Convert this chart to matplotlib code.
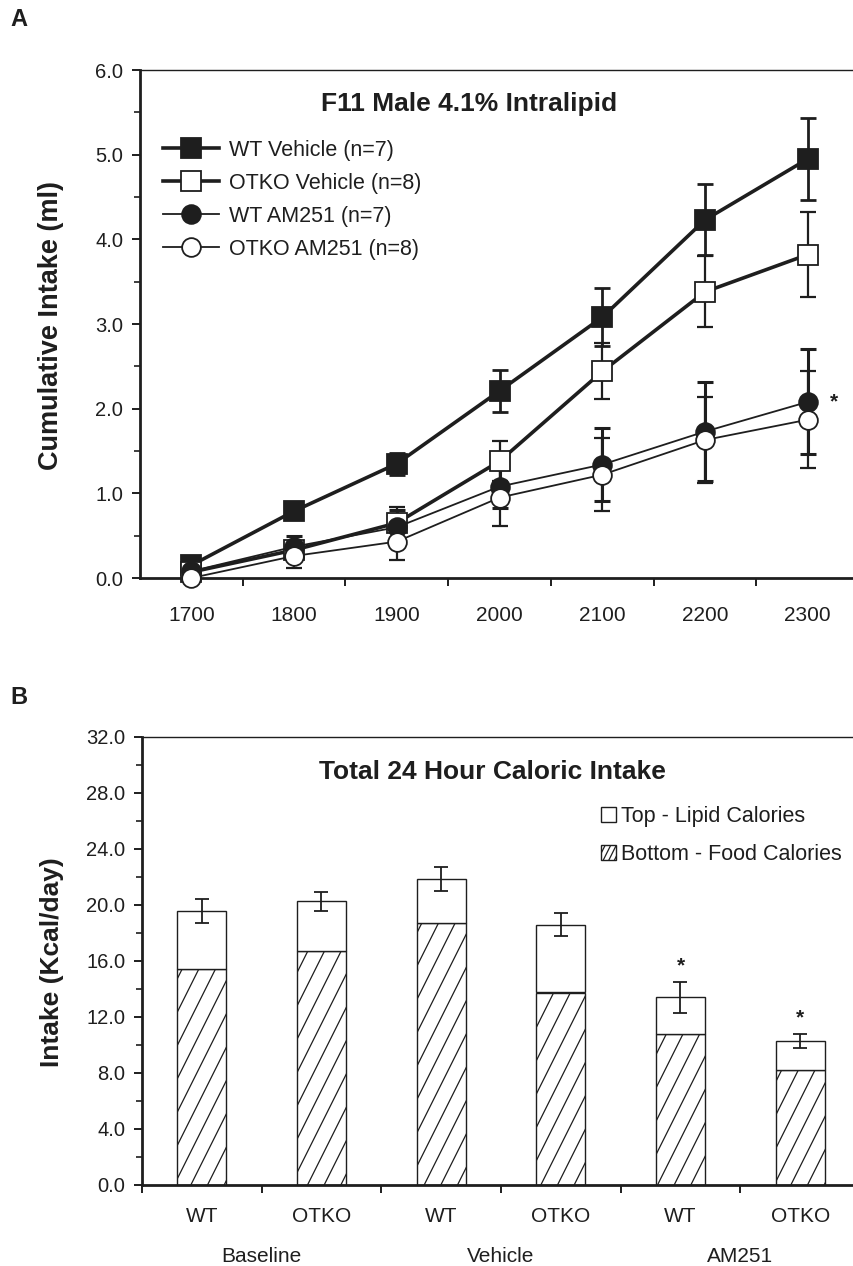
import numpy as np
import matplotlib.pyplot as plt
import matplotlib.hatch as mhatch
from matplotlib.patches import Patch

plt.rcParams['font.family'] = ['Liberation Sans', 'DejaVu Sans']
plt.rcParams['hatch.linewidth'] = 0.9
INK = '#1e1e1e'


class SteepHatch(mhatch.HatchPatternBase):
    """'/' hatch drawn at a 2:1 slope instead of 45 degrees."""

    def __init__(self, hatch, density):
        self.num_lines = int(hatch.count('/') * density)
        # even line count keeps the tile seamless with a half-cell shift
        if self.num_lines % 2:
            self.num_lines += 1
        self.n_seg = (self.num_lines * 3) // 2 + 1 if self.num_lines else 0
        self.num_vertices = self.n_seg * 2

    def set_vertices_and_codes(self, vertices, codes):
        starts = np.arange(self.n_seg) / self.num_lines - 0.5
        vertices[0::2, 0] = starts
        vertices[0::2, 1] = 0.0
        vertices[1::2, 0] = starts + 0.5
        vertices[1::2, 1] = 1.0
        codes[0::2] = mhatch.Path.MOVETO
        codes[1::2] = mhatch.Path.LINETO


mhatch._hatch_types[mhatch._hatch_types.index(mhatch.NorthEastHatch)] = SteepHatch

# Panel A: cumulative intralipid intake (ml), mean +/- SEM
hours = [1700, 1800, 1900, 2000, 2100, 2200, 2300]
wt_vehicle = [0.15, 0.79, 1.35, 2.21, 3.08, 4.23, 4.95]
wt_vehicle_sem = [0.03, 0.05, 0.13, 0.25, 0.34, 0.42, 0.48]
otko_vehicle = [0.07, 0.33, 0.65, 1.38, 2.44, 3.38, 3.82]
otko_vehicle_sem = [0.02, 0.10, 0.19, 0.24, 0.33, 0.42, 0.50]
wt_am251 = [0.08, 0.37, 0.60, 1.08, 1.34, 1.73, 2.08]
wt_am251_sem = [0.03, 0.13, 0.20, 0.25, 0.43, 0.58, 0.62]
otko_am251 = [0.0, 0.26, 0.43, 0.95, 1.22, 1.63, 1.87]
otko_am251_sem = [0.02, 0.14, 0.22, 0.33, 0.43, 0.51, 0.57]
series_labels = ['WT Vehicle (n=7)', 'OTKO Vehicle (n=8)',
                 'WT AM251 (n=7)', 'OTKO AM251 (n=8)']

# Panel B: total 24 h caloric intake (Kcal/day)
genotypes = ['WT', 'OTKO', 'WT', 'OTKO', 'WT', 'OTKO']
treatments = ['Baseline', 'Vehicle', 'AM251']
food_kcal = [15.4, 16.7, 18.7, 13.75, 10.8, 8.25]
total_kcal = [19.55, 20.25, 21.85, 18.6, 13.4, 10.3]
total_sem = [0.85, 0.7, 0.85, 0.8, 1.1, 0.5]
significant = [False, False, False, False, True, True]

fig = plt.figure(figsize=(8.54, 12.66), dpi=100)
ax1 = fig.add_axes([140 / 854, 1 - 578 / 1266, 714 / 854, 508 / 1266])
ax2 = fig.add_axes([142 / 854, 1 - 1185 / 1266, 712 / 854, 448 / 1266])


def style_axes(ax):
    ax.spines['right'].set_visible(False)
    ax.spines['top'].set_linewidth(1.0)
    ax.spines['left'].set_linewidth(2.0)
    ax.spines['bottom'].set_linewidth(2.0)
    for s in ax.spines.values():
        s.set_color(INK)
    ax.tick_params(axis='y', which='major', length=6, width=1.4, pad=6,
                   labelsize=14.5, colors=INK, direction='out')
    ax.tick_params(axis='y', which='minor', length=4, width=1.2, colors=INK)
    ax.tick_params(axis='x', which='major', length=0, labelsize=15, colors=INK)
    ax.tick_params(axis='x', which='minor', length=6, width=1.4, colors=INK,
                   direction='out')


# ---- panel A ----
x = np.array(hours)
styles = [
    dict(marker='s', mfc=INK, lw=2.6, ms=14, elw=2.0),
    dict(marker='s', mfc='white', lw=2.6, ms=14, elw=1.6),
    dict(marker='o', mfc=INK, lw=1.3, ms=13.5, elw=2.2),
    dict(marker='o', mfc='white', lw=1.3, ms=13.5, elw=1.6),
]
means = [wt_vehicle, otko_vehicle, wt_am251, otko_am251]
sems = [wt_vehicle_sem, otko_vehicle_sem, wt_am251_sem, otko_am251_sem]
for m, e, st in zip(means, sems, styles):
    ax1.errorbar(x, m, yerr=e, fmt='none', ecolor=INK, elinewidth=st['elw'],
                 capsize=5.5, capthick=st['elw'], zorder=2)
handles = []
for i, (m, st, lab) in enumerate(zip(means, styles, series_labels)):
    h, = ax1.plot(x, m, color=INK, lw=st['lw'], marker=st['marker'],
                  ms=st['ms'], mfc=st['mfc'], mec=INK, mew=1.3,
                  label=lab, zorder=3 + i, clip_on=False)
    handles.append(h)

ax1.set_xlim(1650, 2345)
ax1.set_ylim(0, 6)
ax1.set_xticks(hours)
ax1.set_xticklabels([str(h) for h in hours])
ax1.set_xticks(np.arange(1750, 2300, 100), minor=True)
ax1.set_yticks(np.arange(0, 6.01, 1))
ax1.set_yticklabels(['%.1f' % v for v in np.arange(0, 6.01, 1)])
ax1.set_yticks(np.arange(0.5, 6, 1), minor=True)
style_axes(ax1)
ax1.tick_params(axis='x', which='major', pad=20)

ax1.text(0.461, 0.933, 'F11 Male 4.1% Intralipid', transform=ax1.transAxes,
         ha='center', va='center', fontsize=19, fontweight='bold', color=INK)
ax1.text(2300 + 22, wt_am251[-1], '*', ha='left', va='center',
         fontsize=15, fontweight='bold', color=INK)
ax1.legend(handles=handles, loc='upper left', bbox_to_anchor=(0.032, 0.863),
           frameon=False, fontsize=15.5, handlelength=2.6, handletextpad=0.45,
           labelspacing=0.56, borderpad=0, borderaxespad=0, labelcolor=INK)

# ---- panel B ----
pos = np.arange(len(genotypes))
lipid_kcal = [t - f for t, f in zip(total_kcal, food_kcal)]
ax2.bar(pos, food_kcal, width=0.41, color='white', edgecolor=INK,
        linewidth=1.0, hatch='/', zorder=2)
ax2.bar(pos, lipid_kcal, width=0.41, bottom=food_kcal, color='white',
        edgecolor=INK, linewidth=1.0, zorder=2)
ax2.errorbar(pos, total_kcal, yerr=total_sem, fmt='none', ecolor=INK,
             elinewidth=1.3, capsize=5, capthick=1.3, zorder=3)
for p, t, e, s in zip(pos, total_kcal, total_sem, significant):
    if s:
        ax2.text(p, t + e + 0.45, '*', ha='center', va='bottom',
                 fontsize=15, fontweight='bold', color=INK)

ax2.set_xlim(-0.5, 5.45)
ax2.set_ylim(0, 32)
ax2.set_xticks(pos)
ax2.set_xticklabels(genotypes)
ax2.set_xticks(np.arange(-0.5, 5.0, 1), minor=True)
ax2.set_yticks(np.arange(0, 32.1, 4))
ax2.set_yticklabels(['%.1f' % v for v in np.arange(0, 32.1, 4)])
ax2.set_yticks(np.arange(2, 32, 4), minor=True)
style_axes(ax2)
ax2.tick_params(axis='x', which='major', pad=16)

for i, name in enumerate(treatments):
    ax2.text(2 * i + 0.5, -0.16, name, transform=ax2.get_xaxis_transform(),
             ha='center', va='center', fontsize=15, color=INK)

ax2.text(0.4916, 0.922, 'Total 24 Hour Caloric Intake', transform=ax2.transAxes,
         ha='center', va='center', fontsize=19, fontweight='bold', color=INK)
leg_handles = [Patch(facecolor='white', edgecolor=INK, linewidth=1.0),
               Patch(facecolor='white', edgecolor=INK, linewidth=1.0, hatch='///')]
ax2.legend(leg_handles, ['Top - Lipid Calories', 'Bottom - Food Calories'],
           loc='upper left', bbox_to_anchor=(0.645, 0.846), frameon=False,
           fontsize=15.5, handlelength=0.7, handleheight=0.7,
           handletextpad=0.2, labelspacing=0.8, borderpad=0,
           borderaxespad=0, labelcolor=INK)

# axis titles and panel letters
fig.text(51 / 854, 1 - 325 / 1266, 'Cumulative Intake (ml)', rotation=90,
         ha='center', va='center', fontsize=19.5, fontweight='bold', color=INK)
fig.text(52 / 854, 1 - 962 / 1266, 'Intake (Kcal/day)', rotation=90,
         ha='center', va='center', fontsize=19, fontweight='bold', color=INK)
fig.text(10 / 854, 1 - 20 / 1266, 'A', ha='left', va='center',
         fontsize=17, fontweight='bold', color=INK)
fig.text(10 / 854, 1 - 697 / 1266, 'B', ha='left', va='center',
         fontsize=17, fontweight='bold', color=INK)

fig.savefig('out.png', dpi=100, facecolor='white')
